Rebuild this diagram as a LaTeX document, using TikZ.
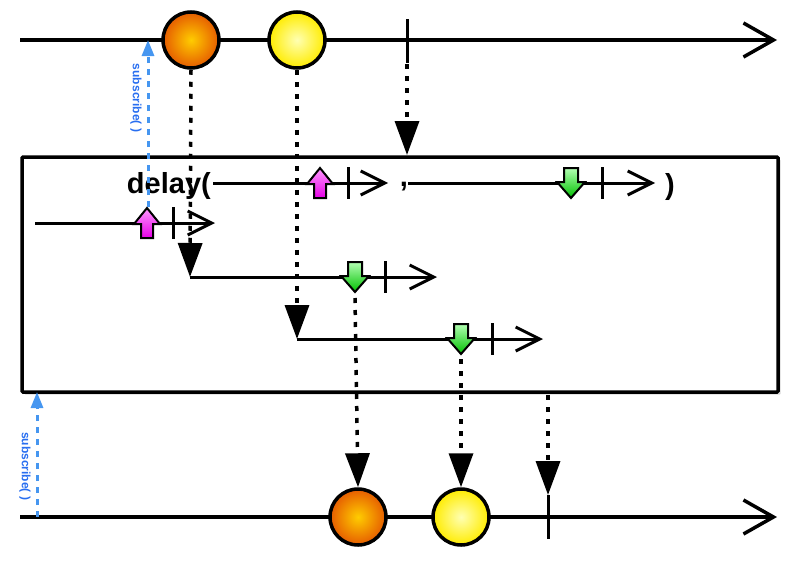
\documentclass[tikz,border=0pt]{standalone}
\usepackage{fontspec}
\setmainfont{Liberation Sans}
\usetikzlibrary{arrows.meta,shadows}
\definecolor{subblue}{RGB}{40,110,240}
\definecolor{dashblue}{RGB}{70,150,240}
\begin{document}
\begin{tikzpicture}[x=1pt,y=-1pt,
  tl/.style={line width=3.5pt,-{Straight Barb[length=30pt,width=34pt,line width=3.5pt]}},
  sl/.style={line width=3pt,-{Straight Barb[length=24pt,width=24pt,line width=3pt]}},
  dots/.style={line width=3.5pt,dash pattern=on 5pt off 7pt,-{Triangle[width=24pt,length=34pt]}},
  sub/.style={line width=3pt,dashblue,dash pattern=on 6pt off 6pt,-{Triangle[width=12pt,length=16pt]}},
  subtxt/.style={text=subblue,font=\bfseries\fontsize{12}{12}\selectfont,rotate=-90},
  tick/.style={line width=3pt},
  ball/.style={circle,draw=black,line width=3.5pt,minimum size=56pt,inner sep=0pt},
  orange/.style={ball,inner color=yellow!60!orange,outer color=orange!80!red!90!black},
  yell/.style={ball,inner color=yellow!30,outer color=yellow!85!orange},
  lbl/.style={font=\bfseries\fontsize{29}{29}\selectfont,inner sep=0pt}]
\useasboundingbox (0,0) rectangle (799,562);
\tikzset{pics/uarr/.style={code={
  \draw[line width=2pt,top color=white!60!magenta,bottom color=magenta!80!violet]
   (-6,15)--(-6,1)--(-13,1)--(0,-15)--(13,1)--(6,1)--(6,15)--cycle;}},
  pics/darr/.style={code={
  \draw[line width=2pt,top color=green!30!white,bottom color=green!75!black]
   (-7,-15)--(-7,-1)--(-14,-1)--(0,15)--(14,-1)--(7,-1)--(7,-15)--cycle;}}}
% top line
\coordinate (ts) at (20,40); \coordinate (te) at (777,40);
\draw[tl] (ts)--(te);
\node[orange] (o1) at (191,40) {};
\node[yell] (y1) at (297,40) {};
\draw[tick] (407,19)--(407,63);
% box
\node[draw,line width=3.5pt,fill=white,drop shadow={opacity=0.3},minimum width=756pt,minimum height=235pt,rounded corners=1pt] (box) at (400,274.5) {};
% delay row
\node[lbl,anchor=east] (dl) at (211,186) {delay(};
\coordinate (a1) at (213,183); \coordinate (a1e) at (388,183);
\draw[sl] (a1)--(a1e);
\draw[tick] (348,167)--(348,199);
\pic at (320,183) {uarr};
\node[lbl] (cm) at (404,187) {,};
\coordinate (a2) at (408,183); \coordinate (a2e) at (655,183);
\draw[sl] (a2)--(a2e);
\draw[tick] (602,167)--(602,199);
\pic at (571,183) {darr};
\node[lbl] (cp) at (670,187) {)};
% row 2
\coordinate (b1) at (35,223); \coordinate (b1e) at (215,223);
\draw[sl] (b1)--(b1e);
\draw[tick] (173,207)--(173,239);
% row 3
\coordinate (c1) at (190,277); \coordinate (c1e) at (437,277);
\draw[sl] (c1)--(c1e);
\draw[tick] (385,261)--(385,293);
% row 4
\coordinate (d1) at (297,339); \coordinate (d1e) at (543,339);
\draw[sl] (d1)--(d1e);
\draw[tick] (492,323)--(492,355);
% dotted connectors
\draw[dots] (o1.south)--(c1);
\draw[dots] (y1.south)--(d1);
\coordinate (bt) at (407,155);
\draw[dots] (407,64)--(bt);
% bottom line
\draw[tl] (20,517)--(777,517);
\node[orange] (o2) at (358,517) {};
\node[yell] (y2) at (461,517) {};
\draw[tick] (548,495)--(548,539);
\draw[dots] (355,298)--(o2.north);
\draw[dots] (461,359)--(y2.north);
\draw[dots] (548,395)--(548,495);
% markers
\pic at (147,223) {uarr};
\pic at (355,277) {darr};
\pic at (461,339) {darr};
% subscribe arrows
\coordinate (s1) at (148,40);
\draw[sub] (148,207)--(s1);
\node[subtxt] (st1) at (136,98) {subscribe( )};
\coordinate (s2) at (37,392);
\draw[sub] (37,517)--(s2);
\node[subtxt] (st2) at (25,466) {subscribe( )};
\end{tikzpicture}
\end{document}
